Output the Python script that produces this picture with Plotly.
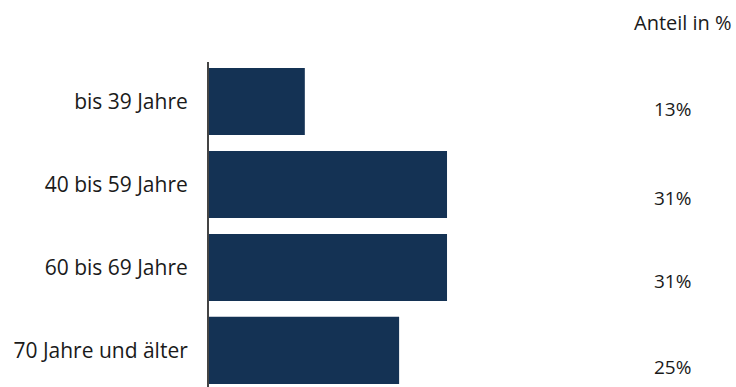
import plotly.graph_objects as go

categories = ["bis 39 Jahre", "40 bis 59 Jahre", "60 bis 69 Jahre", "70 Jahre und älter"]
values = [12.6, 31.3, 31.3, 25.0]
value_labels = ["13%", "31%", "31%", "25%"]
header = "Anteil in %"

FONT = "Open Sans"
TXT = "#1a1a1a"
fig = go.Figure(go.Bar(
    y=categories, x=values, orientation="h",
    marker=dict(color="#143254", line=dict(width=0)),
    hoverinfo="skip",
))

label_shift = [-7, -13, -14, -17]
for i, (c, t) in enumerate(zip(categories, value_labels)):
    fig.add_annotation(x=0.8406, xref="paper", y=c, yref="y", text=t,
                       showarrow=False, xanchor="left", yanchor="middle",
                       yshift=label_shift[i],
                       font=dict(family=FONT, size=19, color=TXT))
fig.add_annotation(x=0.803, xref="paper", y=1.123, yref="paper", text=header,
                   showarrow=False, xanchor="left", yanchor="middle",
                   font=dict(family=FONT, size=20, color=TXT))

fig.update_layout(
    width=736, height=387,
    margin=dict(l=209, r=0, t=62, b=0),
    paper_bgcolor="white", plot_bgcolor="white",
    bargap=0.19, showlegend=False,
    font=dict(family=FONT, size=20, color=TXT),
    xaxis=dict(range=[0, 69.3], visible=False, fixedrange=True),
    yaxis=dict(range=[3.44, -0.476], showline=True, linecolor="#444444", linewidth=2,
               ticks="", showgrid=False, zeroline=False, ticklabelstandoff=15,
               fixedrange=True,
               tickfont=dict(family=FONT, size=21, color=TXT)),
)
fig.write_html("out.html", config={"displayModeBar": False},
               post_script="document.body.style.margin='0';")
